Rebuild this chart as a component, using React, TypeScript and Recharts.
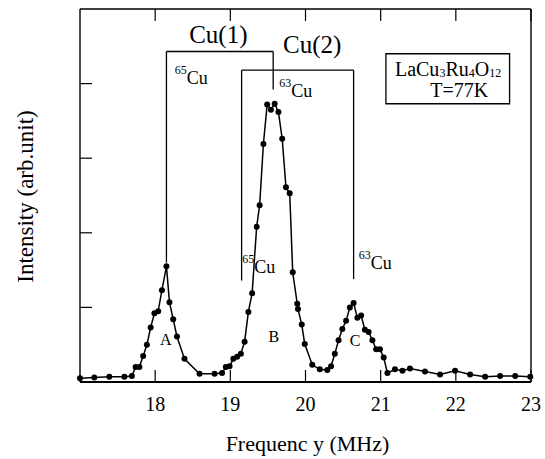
import * as React from "react";
import {
  LineChart,
  Line,
  XAxis,
  YAxis,
  ReferenceLine,
  ReferenceDot,
  ReferenceArea,
} from "recharts";

// NMR spectrum of LaCu3Ru4O12 at 77 K.
const FONT = "'Liberation Serif', 'Times New Roman', Times, serif";

const freq = [
  17.0, 17.19, 17.39, 17.59, 17.69, 17.74, 17.79, 17.84, 17.89, 17.94, 17.99,
  18.04, 18.09, 18.15, 18.19, 18.24, 18.29, 18.39, 18.59, 18.79, 18.89, 18.94,
  18.99, 19.04, 19.09, 19.14, 19.19, 19.24, 19.29, 19.35, 19.39, 19.44, 19.49,
  19.54, 19.59, 19.64, 19.69, 19.74, 19.79, 19.83, 19.89, 19.9, 19.95, 19.99,
  20.09, 20.19, 20.29, 20.34, 20.39, 20.44, 20.49, 20.54, 20.59, 20.64, 20.69,
  20.74, 20.79, 20.84, 20.89, 20.94, 20.99, 21.04, 21.09, 21.19, 21.29, 21.39,
  21.59, 21.79, 21.99, 22.19, 22.39, 22.59, 22.79, 22.99,
];

const intensity = [
  0.05, 0.06, 0.07, 0.07, 0.08, 0.2, 0.2, 0.35, 0.5, 0.73, 0.92, 0.95, 1.23,
  1.55, 1.07, 0.84, 0.61, 0.31, 0.11, 0.11, 0.12, 0.2, 0.21, 0.31, 0.34, 0.38,
  0.54, 0.94, 1.19, 2.08, 2.37, 3.19, 3.72, 3.65, 3.73, 3.62, 3.26, 2.61, 2.53,
  1.47, 1.05, 0.98, 0.77, 0.51, 0.23, 0.17, 0.16, 0.21, 0.38, 0.56, 0.71, 0.82,
  1.0, 1.06, 0.86, 0.89, 0.7, 0.67, 0.56, 0.44, 0.44, 0.33, 0.12, 0.17, 0.15,
  0.18, 0.14, 0.1, 0.15, 0.1, 0.07, 0.08, 0.08, 0.07,
];

const xTicks = [18, 19, 20, 21, 22, 23];
const yTicks = [1, 2, 3, 4];

// bracket polylines (freq, intensity) for the two Cu sites
const cu1Path = [
  [18.15, 1.6],
  [18.15, 4.43],
  [19.57, 4.43],
  [19.57, 3.92],
];
const cu2Path = [
  [19.15, 1.36],
  [19.15, 4.18],
  [20.64, 4.18],
  [20.64, 1.38],
];

// sample box corners: [x1, x2], [y1, y2]
const boxX = [21.07, 22.715];
const boxY = [3.73, 4.4];

type Part = [string, number, number]; // text, font size, dy
type Note = { x: number; y: number; anchor: "start" | "middle"; parts: Part[] };

const notes: Note[] = [
  { x: 18.84, y: 4.54, anchor: "middle", parts: [["Cu(1)", 25, 0]] },
  { x: 20.09, y: 4.41, anchor: "middle", parts: [["Cu(2)", 25, 0]] },
  { x: 18.26, y: 3.99, anchor: "start", parts: [["65", 12, -10], ["Cu", 18, 10]] },
  { x: 19.65, y: 3.82, anchor: "start", parts: [["63", 12, -10], ["Cu", 18, 10]] },
  { x: 19.16, y: 1.46, anchor: "start", parts: [["65", 12, -10], ["Cu", 18, 10]] },
  { x: 20.71, y: 1.51, anchor: "start", parts: [["63", 12, -10], ["Cu", 18, 10]] },
  { x: 18.14, y: 0.5, anchor: "middle", parts: [["A", 16, 0]] },
  { x: 19.58, y: 0.54, anchor: "middle", parts: [["B", 16, 0]] },
  { x: 20.66, y: 0.48, anchor: "middle", parts: [["C", 16, 0]] },
  {
    x: 21.19,
    y: 4.1,
    anchor: "start",
    parts: [
      ["LaCu", 20, 0],
      ["3", 12, 1],
      ["Ru", 20, -1],
      ["4", 12, 1],
      ["O", 20, -1],
      ["12", 12, 1],
    ],
  },
  { x: 21.66, y: 3.82, anchor: "start", parts: [["T=77K", 20, 0]] },
];

const data = freq.map((f, i) => ({ f, v: intensity[i] }));

function noteLabel(note: Note) {
  return (p: any) => {
    const vb = p.viewBox || {};
    return (
      <text x={vb.x} y={vb.y} textAnchor={note.anchor} fontFamily={FONT} fill="#000">
        {note.parts.map(([t, s, dy], i) => (
          <tspan key={i} fontSize={s} dy={dy}>
            {t}
          </tspan>
        ))}
      </text>
    );
  };
}

function segments(path: number[][]) {
  return path.slice(1).map((pt, i) => [path[i], pt]);
}

// tick marks without labels
const NoLabel = () => <g />;

const XTitle = (p: any) => {
  const vb = p.viewBox;
  return (
    <text x={vb.x + vb.width / 2 + 2} y={vb.y + 69} textAnchor="middle" fontFamily={FONT} fontSize={22} fill="#000">
      Frequenc y (MHz)
    </text>
  );
};

const YTitle = (p: any) => {
  const vb = p.viewBox;
  return (
    <text
      transform={`translate(${vb.x - 46}, ${vb.y + vb.height / 2 + 1}) rotate(-90)`}
      textAnchor="middle"
      fontFamily={FONT}
      fontSize={23}
      fill="#000"
    >
      Intensity (arb.unit)
    </text>
  );
};

export default function App() {
  const axisLine = { stroke: "#000", strokeWidth: 1.4 };
  const tickLine = { stroke: "#000", strokeWidth: 1.2 };
  return (
    <div style={{ position: "absolute", left: 0, top: 0, width: 545, height: 459, background: "#fff", fontFamily: FONT }}>
      <LineChart width={545} height={459} data={data} margin={{ top: 8, right: 13, bottom: 76, left: 79 }}>
        <XAxis
          xAxisId="b"
          dataKey="f"
          type="number"
          domain={[17, 23]}
          ticks={xTicks}
          height={1}
          tickSize={-12}
          tickMargin={27}
          axisLine={{ stroke: "#000", strokeWidth: 2 }}
          tickLine={tickLine}
          tick={{ fontSize: 20, fill: "#000", fontFamily: FONT }}
          label={<XTitle />}
        />
        <XAxis
          xAxisId="t"
          orientation="top"
          dataKey="f"
          type="number"
          domain={[17, 23]}
          ticks={xTicks}
          height={1}
          tickSize={-12}
          tick={NoLabel}
          axisLine={axisLine}
          tickLine={tickLine}
        />
        <YAxis
          yAxisId="l"
          type="number"
          domain={[0, 5]}
          ticks={yTicks}
          width={1}
          tickSize={-12}
          tick={NoLabel}
          axisLine={axisLine}
          tickLine={tickLine}
          label={<YTitle />}
        />
        <YAxis
          yAxisId="r"
          orientation="right"
          type="number"
          domain={[0, 5]}
          ticks={yTicks}
          width={1}
          tickSize={-12}
          tick={NoLabel}
          axisLine={axisLine}
          tickLine={tickLine}
        />
        {[...segments(cu1Path), ...segments(cu2Path)].map(([a, b], i) => (
          <ReferenceLine
            key={`seg${i}`}
            xAxisId="b"
            yAxisId="l"
            segment={[
              { x: a[0], y: a[1] },
              { x: b[0], y: b[1] },
            ]}
            stroke="#000"
            strokeWidth={1.3}
            ifOverflow="visible"
          />
        ))}
        <ReferenceArea
          xAxisId="b"
          yAxisId="l"
          x1={boxX[0]}
          x2={boxX[1]}
          y1={boxY[0]}
          y2={boxY[1]}
          fill="#fff"
          fillOpacity={1}
          stroke="#000"
          strokeWidth={1.3}
        />
        <Line
          xAxisId="b"
          yAxisId="l"
          dataKey="v"
          type="linear"
          stroke="#000"
          strokeWidth={1.5}
          dot={{ r: 3, fill: "#000", stroke: "#000", strokeWidth: 0 }}
          activeDot={false}
          isAnimationActive={false}
        />
        {notes.map((n, i) => (
          <ReferenceDot
            key={`note${i}`}
            xAxisId="b"
            yAxisId="l"
            x={n.x}
            y={n.y}
            r={0}
            fill="none"
            stroke="none"
            label={noteLabel(n)}
          />
        ))}
      </LineChart>
    </div>
  );
}
